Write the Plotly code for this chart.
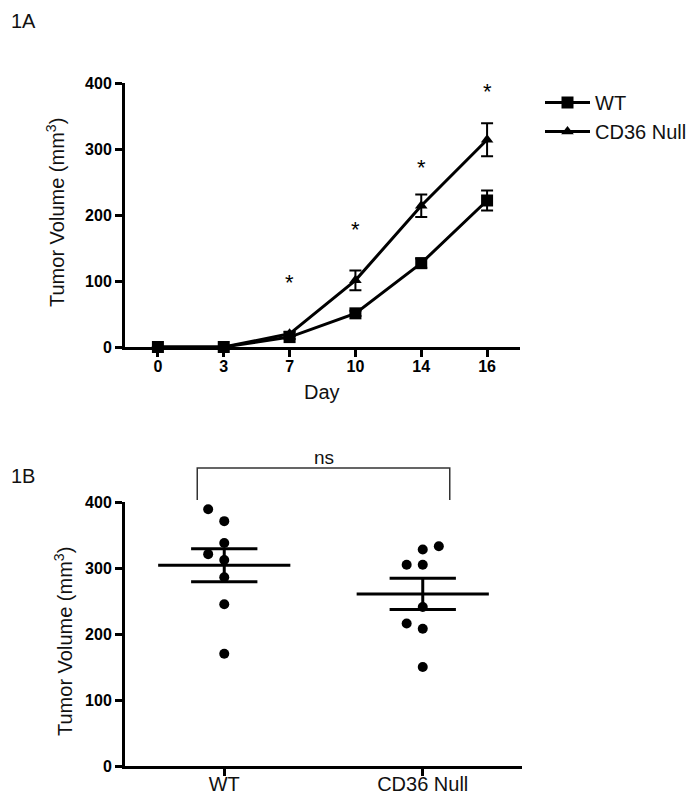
import numpy as np
import plotly.graph_objects as go

# ---------------- data ----------------
days = ["0", "3", "7", "10", "14", "16"]
wt_mean = [0, 0, 15, 51, 127, 222]
wt_sem = [0, 0, 3, 4, 7, 15]
cd36_mean = [0, 0, 20, 101, 214, 314]
cd36_sem = [0, 0, 3, 15, 17, 25]
star_days = ["7", "10", "14", "16"]
star_y = [106, 185, 279, 394]

groups = ["WT", "CD36 Null"]
wt_points = [389, 371, 338, 321, 312, 286, 245, 170]
cd36_points = [333, 328, 305, 305, 241, 216, 208, 150]
wt_cols = [-1, 0, 0, -1, 0, 0, 0, 0]
cd36_cols = [1, 0, -1, 0, 0, -1, 0, 0]

# ---------------- style ----------------
W, H = 696, 804
OFF = 8  # default page body margin
FONT = "Liberation Sans, Arial, sans-serif"
BLACK = "#000000"
TXT = "#111111"

def px_x(p):
    return (p - OFF) / W

def px_y(p):
    return 1 - (p - OFF) / H

fig = go.Figure()

# Panel A lines
fig.add_trace(go.Scatter(
    x=days, y=wt_mean, mode="lines+markers", name="WT",
    line=dict(color=BLACK, width=3),
    marker=dict(symbol="square", size=12, color=BLACK),
    error_y=dict(type="data", array=wt_sem, visible=True, color=BLACK, thickness=2, width=6),
    cliponaxis=False, xaxis="x", yaxis="y"))
fig.add_trace(go.Scatter(
    x=days, y=cd36_mean, mode="lines+markers", name="CD36 Null",
    line=dict(color=BLACK, width=3),
    marker=dict(symbol="triangle-up", size=11, color=BLACK),
    error_y=dict(type="data", array=cd36_sem, visible=True, color=BLACK, thickness=2, width=6),
    cliponaxis=False, xaxis="x", yaxis="y"))

# Panel B scatter
jit = 0.081
for gi, (pts, cols) in enumerate([(wt_points, wt_cols), (cd36_points, cd36_cols)]):
    xs = [gi + c * jit for c in cols]
    fig.add_trace(go.Scatter(
        x=xs, y=pts, mode="markers", showlegend=False,
        marker=dict(size=10, color=BLACK),
        cliponaxis=False, xaxis="x2", yaxis="y2"))
    arr = np.array(pts, dtype=float)
    m = arr.mean()
    sem = arr.std(ddof=1) / np.sqrt(len(arr))
    fig.add_trace(go.Scatter(
        x=[gi - 0.333, gi + 0.333], y=[m, m], mode="lines", showlegend=False,
        line=dict(color=BLACK, width=3), xaxis="x2", yaxis="y2"))
    fig.add_trace(go.Scatter(
        x=[gi - 0.167, gi + 0.167, None, gi - 0.167, gi + 0.167, None, gi, gi],
        y=[m + sem, m + sem, None, m - sem, m - sem, None, m - sem, m + sem],
        mode="lines", showlegend=False,
        line=dict(color=BLACK, width=3), xaxis="x2", yaxis="y2"))

axis_common = dict(
    showline=True, linewidth=3, linecolor=BLACK, ticks="outside",
    ticklen=7, tickwidth=3, tickcolor=BLACK, showgrid=False, zeroline=False,
    layer="below traces", automargin=False,
)
tickfont_bold = dict(family=FONT, size=16, color=BLACK, weight="bold")

fig.update_layout(
    template="none",
    width=W, height=H,
    margin=dict(l=0, r=0, t=0, b=0, pad=0),
    paper_bgcolor="white", plot_bgcolor="white",
    font=dict(family=FONT, color=TXT),
    xaxis=dict(domain=[px_x(125), px_x(520)], anchor="y", type="category",
               categoryorder="array", categoryarray=days, range=[-0.5, 5.5],
               tickfont=tickfont_bold, ticklabelstandoff=-4, **axis_common),
    yaxis=dict(domain=[px_y(347), px_y(83)], anchor="x", range=[0, 400],
               tickvals=[0, 100, 200, 300, 400], tickfont=tickfont_bold, **axis_common),
    xaxis2=dict(domain=[px_x(125), px_x(522)], anchor="y2", range=[-0.5, 1.5],
                tickvals=[0, 1], ticktext=groups, ticklabelstandoff=-9,
                tickfont=dict(family=FONT, size=20, color=TXT), **axis_common),
    yaxis2=dict(domain=[px_y(766), px_y(502)], anchor="x2", range=[0, 400],
                tickvals=[0, 100, 200, 300, 400], tickfont=tickfont_bold, **axis_common),
    legend=dict(x=px_x(540), y=px_y(83), xanchor="left", yanchor="top",
                font=dict(family=FONT, size=20, color=TXT), itemwidth=45,
                bgcolor="rgba(0,0,0,0)", borderwidth=0, tracegroupgap=2),
    showlegend=True,
)

annotations = [
    dict(text="1A", x=px_x(OFF + 1), y=px_y(OFF), xref="paper", yref="paper",
         xanchor="left", yanchor="top", showarrow=False, font=dict(size=20)),
    dict(text="1B", x=px_x(OFF + 1), y=px_y(476), xref="paper", yref="paper",
         xanchor="left", yanchor="middle", showarrow=False, font=dict(size=20)),
    dict(text="Day", x=px_x(322), y=px_y(392), xref="paper", yref="paper",
         xanchor="center", yanchor="middle", showarrow=False, font=dict(size=20)),
    dict(text="Tumor Volume (mm<sup>3</sup>)", x=px_x(56), y=px_y(213), xref="paper", yref="paper",
         xanchor="center", yanchor="middle", textangle=-90, showarrow=False, font=dict(size=20)),
    dict(text="Tumor Volume (mm<sup>3</sup>)", x=px_x(63), y=px_y(642), xref="paper", yref="paper",
         xanchor="center", yanchor="middle", textangle=-90, showarrow=False, font=dict(size=20)),
    dict(text="ns", x=0.5, y=px_y(457), xref="x2", yref="paper",
         xanchor="center", yanchor="middle", showarrow=False, font=dict(size=19)),
]
for d, sy in zip(star_days, star_y):
    annotations.append(dict(text="*", x=days.index(d), y=sy, xref="x", yref="y", yshift=-5,
                            xanchor="center", yanchor="middle", showarrow=False,
                            font=dict(size=22, color=BLACK)))
fig.update_layout(annotations=annotations)

# bracket for "ns"
fig.add_shape(type="path", xref="x2", yref="paper",
              path=f"M -0.136,{px_y(500)} L -0.136,{px_y(468)} L 1.136,{px_y(468)} L 1.136,{px_y(500)}",
              line=dict(color="#333333", width=1.5))

fig.write_html("out.html")
